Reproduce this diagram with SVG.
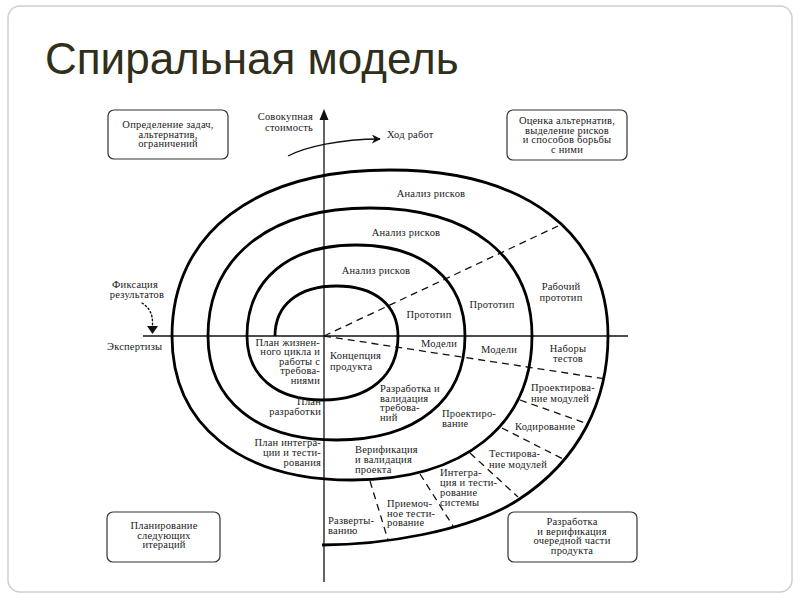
<svg xmlns="http://www.w3.org/2000/svg" width="800" height="600" viewBox="0 0 800 600">
<style>
.t{font-family:"Liberation Serif","Times New Roman",serif;font-size:10.5px;letter-spacing:0.2px;fill:#1a1a1a}
.m{text-anchor:middle}
.e{text-anchor:end}
.box{fill:#fff;stroke:#333;stroke-width:1.2}
.ax{stroke:#111;stroke-width:1.3;fill:none}
.dash{stroke:#111;stroke-width:1.3;fill:none;stroke-dasharray:7,5}
.sp{stroke:#000;stroke-width:2.8;fill:none}
</style>
<defs>
<marker id="ah" viewBox="0 0 10 10" refX="9" refY="5" markerWidth="9" markerHeight="9" markerUnits="userSpaceOnUse" orient="auto">
<path d="M0,0 L10,5 L0,10 L3,5 Z" fill="#111"/>
</marker>
</defs>
<rect x="0" y="0" width="800" height="600" fill="#fff"/>
<rect x="8" y="6" width="784" height="586" rx="12" fill="#fff" stroke="#cfcfcf" stroke-width="1.5"/>
<text x="45" y="74" font-family="Liberation Sans, Arial, sans-serif" font-size="44" fill="#2f2f1c">Спиральная модель</text>

<g id="connectors">
<line class="ax" x1="324" y1="118" x2="324" y2="582"/>
<path d="M324,109 L328.5,120 L319.5,120 Z" fill="#111"/>
<line class="ax" x1="143" y1="336" x2="628" y2="336"/>
<path class="ax" d="M288,156 C305,147 340,139 380,139" stroke-width="1.2" marker-end="url(#ah)"/>
<path d="M142,303 C150,308 153,315 152.5,325" fill="none" stroke="#111" stroke-width="1.4" stroke-dasharray="1.5,2.5" stroke-linecap="round"/>
<path d="M147,326 L158,326 L152.5,334 Z" fill="#111"/>
<line class="dash" x1="324" y1="336" x2="558" y2="226"/>
<line class="dash" x1="324" y1="336" x2="606" y2="379"/>
<line class="dash" x1="520" y1="400" x2="588" y2="424"/>
<line class="dash" x1="502" y1="428" x2="565" y2="460"/>
<line class="dash" x1="470" y1="453" x2="518" y2="497"/>
<line class="dash" x1="420" y1="474" x2="453" y2="526"/>
<line class="dash" x1="370" y1="481" x2="388" y2="540"/>
</g>

<g id="spiral">
<path class="sp" d="M275,336 C275,305 298.4,286 336.5,286 C374.6,286 398,305 398,336 C398,375.7 369.3,400 322.5,400 C275.7,400 247,375.7 247,336 C247,279.6 288.4,245 356,245 C423.6,245 465,279.6 465,336 C465,400.5 416.2,440 336.5,440 C256.8,440 208,400.5 208,336 C208,256.6 269.6,208 370,208 C470.4,208 532,256.6 532,336 C532,425.3 463.6,480 352,480 C240.4,480 172,425.3 172,336 C172,233.1 254.8,170 390,170 C525.2,170 608,233.1 608,336 C608,400 580,460 518,500 C468,532 380,545 322,545"/>
</g>

<g id="box-tl">
<rect class="box" x="108" y="110" width="120" height="49" rx="6"/>
<text class="t m" x="168" y="128">Определение задач,</text>
<text class="t m" x="168" y="137.5">альтернатив,</text>
<text class="t m" x="168" y="147">ограничений</text>
</g>
<g id="box-tr">
<rect class="box" x="507" y="110" width="120" height="50" rx="6"/>
<text class="t m" x="567" y="124">Оценка альтернатив,</text>
<text class="t m" x="567" y="133.5">выделение рисков</text>
<text class="t m" x="567" y="143">и способов борьбы</text>
<text class="t m" x="567" y="152.5">с ними</text>
</g>
<g id="box-bl">
<rect class="box" x="107" y="512" width="113" height="50" rx="6"/>
<text class="t m" x="164" y="529">Планирование</text>
<text class="t m" x="164" y="538.5">следующих</text>
<text class="t m" x="164" y="548">итераций</text>
</g>
<g id="box-br">
<rect class="box" x="508" y="512" width="129" height="50" rx="6"/>
<text class="t m" x="572" y="525">Разработка</text>
<text class="t m" x="572" y="534.5">и верификация</text>
<text class="t m" x="572" y="544">очередной части</text>
<text class="t m" x="572" y="553.5">продукта</text>
</g>

<g id="labels">
<text class="t e" x="313" y="120">Совокупная</text>
<text class="t e" x="313" y="131">стоимость</text>
<text class="t" x="387" y="138">Ход работ</text>
<text class="t m" x="135" y="288">Фиксация</text>
<text class="t m" x="137" y="298">результатов</text>
<text class="t" x="107" y="350">Экспертизы</text>

<text class="t m" x="431" y="197">Анализ рисков</text>
<text class="t m" x="406" y="236">Анализ рисков</text>
<text class="t m" x="376" y="274">Анализ рисков</text>
<text class="t m" x="429" y="318">Прототип</text>
<text class="t m" x="492" y="308">Прототип</text>
<text class="t m" x="561" y="290">Рабочий</text>
<text class="t m" x="561" y="301">прототип</text>

<text class="t m" x="439" y="347">Модели</text>
<text class="t m" x="499" y="353">Модели</text>
<text class="t m" x="568" y="352">Наборы</text>
<text class="t m" x="568" y="362">тестов</text>
<text class="t" x="531" y="391">Проектирова-</text>
<text class="t" x="531" y="402">ние модулей</text>
<text class="t" x="515" y="430">Кодирование</text>
<text class="t" x="489" y="457">Тестирова-</text>
<text class="t" x="489" y="468">ние модулей</text>
<text class="t" x="442" y="417">Проектиро-</text>
<text class="t" x="442" y="427">вание</text>
<text class="t" x="440" y="476">Интегра-</text>
<text class="t" x="440" y="486">ция и тести-</text>
<text class="t" x="440" y="496">рование</text>
<text class="t" x="440" y="505.5">системы</text>
<text class="t" x="387" y="507">Приемоч-</text>
<text class="t" x="387" y="516.5">ное тести-</text>
<text class="t" x="387" y="526">рование</text>
<text class="t" x="328" y="524">Разверты-</text>
<text class="t" x="328" y="533.5">ванию</text>
<text class="t" x="355" y="453">Верификация</text>
<text class="t" x="355" y="463">и валидация</text>
<text class="t" x="355" y="472.5">проекта</text>
<text class="t" x="380" y="392">Разработка и</text>
<text class="t" x="380" y="401.5">валидация</text>
<text class="t" x="380" y="411">требова-</text>
<text class="t" x="380" y="420.5">ний</text>
<text class="t" x="330" y="359">Концепция</text>
<text class="t" x="330" y="370">продукта</text>
<text class="t e" x="320" y="345.5">План жизнен-</text>
<text class="t e" x="320" y="355">ного цикла и</text>
<text class="t e" x="320" y="364.5">работы с</text>
<text class="t e" x="320" y="374">требова-</text>
<text class="t e" x="320" y="383.5">ниями</text>
<text class="t e" x="321" y="405">План</text>
<text class="t e" x="321" y="415">разработки</text>
<text class="t e" x="321" y="446">План интегра-</text>
<text class="t e" x="321" y="456">ции и тести-</text>
<text class="t e" x="321" y="466">рования</text>
</g>
</svg>
